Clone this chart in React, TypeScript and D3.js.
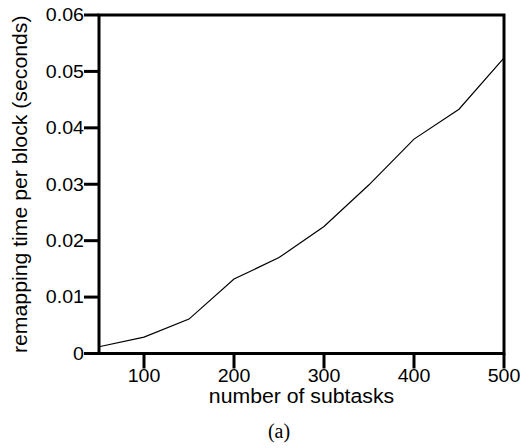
import React from "react";
import * as d3 from "d3";

const subtasks = [50, 100, 150, 200, 250, 300, 350, 400, 450, 500];
const remapTime = [0.0012, 0.0029, 0.0061, 0.0132, 0.0170, 0.0225, 0.0299, 0.0380, 0.0433, 0.0524];
const xTicks = [100, 200, 300, 400, 500];
const yTicks = [0, 0.01, 0.02, 0.03, 0.04, 0.05, 0.06];
const yTickLabels = ["0", "0.01", "0.02", "0.03", "0.04", "0.05", "0.06"];

const W = 523, H = 448;
const L = 99, R = 504, T = 15, B = 353.5;
const FONT = "'Liberation Sans', Arial, Helvetica, sans-serif";
const SX = 1.09;

export default function App() {
  const x = d3.scaleLinear().domain([50, 500]).range([L, R]);
  const y = d3.scaleLinear().domain([0, 0.06]).range([B, T]);
  const line = d3.line<number>().x((_, i) => x(subtasks[i])).y((d) => y(d));
  return (
    <svg width={W} height={H} style={{ position: "absolute", left: 0, top: 0, background: "#fff" }}>
      <path d={line(remapTime) || ""} fill="none" stroke="#000" strokeWidth={1.2} />
      <rect x={L} y={T} width={R - L} height={B - T} fill="none" stroke="#000" strokeWidth={3} />
      {yTicks.map((t, i) => (
        <g key={"y" + i}>
          <line x1={L - 15} x2={L} y1={y(t)} y2={y(t)} stroke="#000" strokeWidth={3} />
          <g transform={`translate(${L - 15},${y(t)}) scale(${SX},1)`}>
            <text x={0} y={0} dy="0.35em" textAnchor="end" fontFamily={FONT} fontSize={18} fill="#000">
              {yTickLabels[i]}
            </text>
          </g>
        </g>
      ))}
      {xTicks.map((t, i) => (
        <g key={"x" + i}>
          <line x1={x(t)} x2={x(t)} y1={B} y2={B + 15} stroke="#000" strokeWidth={3} />
          <g transform={`translate(${x(t)},${B + 28}) scale(${SX},1)`}>
            <text x={0} y={0} textAnchor="middle" fontFamily={FONT} fontSize={18} fill="#000">
              {t}
            </text>
          </g>
        </g>
      ))}
      <g transform={`translate(${(L + R) / 2},${B + 49.5}) scale(${SX},1)`}>
        <text textAnchor="middle" fontFamily={FONT} fontSize={19.5} fill="#000">number of subtasks</text>
      </g>
      <g transform={`translate(27,${(T + B) / 2}) rotate(-90) scale(${SX},1)`}>
        <text textAnchor="middle" fontFamily={FONT} fontSize={19.5} fill="#000">remapping time per block (seconds)</text>
      </g>
      <text x={279} y={438} textAnchor="middle" fontFamily="'Liberation Serif', 'Times New Roman', serif" fontSize={20} fill="#000">(a)</text>
    </svg>
  );
}
